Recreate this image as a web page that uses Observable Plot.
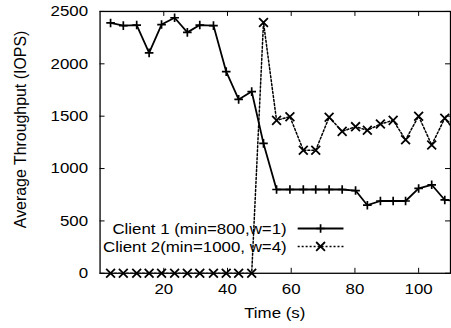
<!DOCTYPE html>
<html>
<head>
<meta charset="utf-8">
<script src="https://cdn.jsdelivr.net/npm/d3@7"></script>
<script src="https://cdn.jsdelivr.net/npm/@observablehq/plot@0.6"></script>
<style>
  html, body { margin: 0; padding: 0; background: #fff; overflow: hidden; }
  #chart { position: relative; width: 451px; height: 328px; overflow: hidden; }
</style>
</head>
<body>
<div id="chart"></div>
<script>
// Time (s) of each sample
const times = [3.3, 7.3, 11.5, 15.4, 19.3, 23.4, 27.4, 31.3, 35.6, 39.6, 43.5, 47.6, 51.3, 55.4, 59.6, 63.8, 67.7, 71.9, 76.0, 80.2, 83.9, 88.0, 92.0, 95.9, 100.0, 104.1, 108.2, 112.3];
// Client 1 (min=800,w=1) throughput (IOPS)
const client1 = [2390, 2365, 2370, 2105, 2375, 2440, 2300, 2370, 2365, 1925, 1660, 1735, 1240, 800, 800, 800, 800, 800, 800, 790, 650, 690, 690, 690, 810, 845, 700, 690];
// Client 2(min=1000, w=4) throughput (IOPS)
const client2 = [0, 0, 0, 0, 0, 0, 0, 0, 0, 0, 0, 0, 2395, 1460, 1495, 1175, 1175, 1490, 1355, 1400, 1365, 1425, 1460, 1275, 1500, 1225, 1480, 1320];
const seriesNames = ["Client 1 (min=800,w=1)", "Client 2(min=1000, w=4)"];
const xTicks = [20, 40, 60, 80, 100];
const yTicks = [0, 500, 1000, 1500, 2000, 2500];
const xLabel = "Time (s)";
const yLabel = "Average Throughput (IOPS)";

const rows1 = times.map((t, i) => ({t, v: client1[i]}));
const rows2 = times.map((t, i) => ({t, v: client2[i]}));

const W = 453, H = 328, mL = 100, mR = 1, mT = 11, mB = 54;
const plotW = W - mL - mR, plotH = H - mT - mB;
const TK = 5;
const rPlus = 2.9, rTimes = 4.1;
const font = "'Liberation Sans', Arial, sans-serif";

const svg = Plot.plot({
  width: W, height: H,
  marginLeft: mL, marginRight: mR, marginTop: mT, marginBottom: mB,
  style: {fontFamily: font, fontSize: "15px", color: "black", background: "white", overflow: "hidden"},
  x: {domain: [0, 110], ticks: xTicks, tickSize: 0, tickPadding: 10, tickFormat: d => String(d), label: null},
  y: {domain: [0, 2500], ticks: yTicks, tickSize: 0, tickPadding: 12, tickFormat: d => String(d), label: null},
  marks: [
    Plot.tickX(xTicks, {x: d => d, insetTop: plotH - TK, stroke: "black", strokeWidth: 1}),
    Plot.tickX(xTicks, {x: d => d, insetBottom: plotH - TK, stroke: "black", strokeWidth: 1}),
    Plot.tickY(yTicks, {y: d => d, insetRight: plotW - TK, stroke: "black", strokeWidth: 1}),
    Plot.tickY(yTicks, {y: d => d, insetLeft: plotW - TK, stroke: "black", strokeWidth: 1}),
    Plot.frame({stroke: "black", strokeWidth: 1.3}),
    Plot.line(rows1, {x: "t", y: "v", stroke: "black", strokeWidth: 1.8, clip: true}),
    Plot.line(rows2, {x: "t", y: "v", stroke: "black", strokeWidth: 1.5, strokeDasharray: "2,2", clip: true}),
    Plot.dot(rows1, {x: "t", y: "v", symbol: "plus", r: rPlus, fill: "none", stroke: "black", strokeWidth: 1.7}),
    Plot.dot(rows2, {x: "t", y: "v", symbol: "times", r: rTimes, fill: "none", stroke: "black", strokeWidth: 1.8})
  ]
});

const s = d3.select(svg);
// axis titles
s.append("text")
  .attr("transform", `translate(${mL + plotW / 2},319)`)
  .attr("text-anchor", "middle").attr("font-family", font).attr("font-size", 15)
  .attr("fill", "black").text(xLabel);
s.append("text")
  .attr("transform", `translate(26.5,130) rotate(-90)`)
  .attr("text-anchor", "middle").attr("font-family", font).attr("font-size", 16)
  .attr("fill", "black").text(yLabel)
  .attr("data-nostretch", "1");

// legend
const lg = s.append("g");
const entries = [
  {name: seriesNames[0], base: 235, ly: 229.5, dash: null, sw: 1.8, sym: d3.symbolPlus, r: rPlus, ssw: 1.7},
  {name: seriesNames[1], base: 253, ly: 247.5, dash: "2,2", sw: 1.5, sym: d3.symbolTimes, r: rTimes, ssw: 1.8}
];
entries.forEach(e => {
  lg.append("text")
    .attr("x", 288).attr("y", e.base)
    .attr("text-anchor", "end").attr("font-family", font).attr("font-size", 15)
    .attr("fill", "black").text(e.name);
  lg.append("line").attr("x1", 299).attr("x2", 345).attr("y1", e.ly).attr("y2", e.ly)
    .attr("stroke", "black").attr("stroke-width", e.sw)
    .attr("stroke-dasharray", e.dash);
  lg.append("path").attr("transform", `translate(322,${e.ly})`)
    .attr("d", d3.symbol().type(e.sym).size(e.r * e.r * Math.PI)())
    .attr("fill", "none").attr("stroke", "black").attr("stroke-width", e.ssw);
});

document.getElementById("chart").appendChild(svg);

// stretch horizontal text slightly, as in the reference rendering
const SX = 1.13;
svg.querySelectorAll("text").forEach(t => {
  if (t.getAttribute("data-nostretch")) return;
  const L = t.getComputedTextLength();
  if (L > 0) {
    t.setAttribute("textLength", (L * SX).toFixed(2));
    t.setAttribute("lengthAdjust", "spacingAndGlyphs");
  }
});
</script>
</body>
</html>
